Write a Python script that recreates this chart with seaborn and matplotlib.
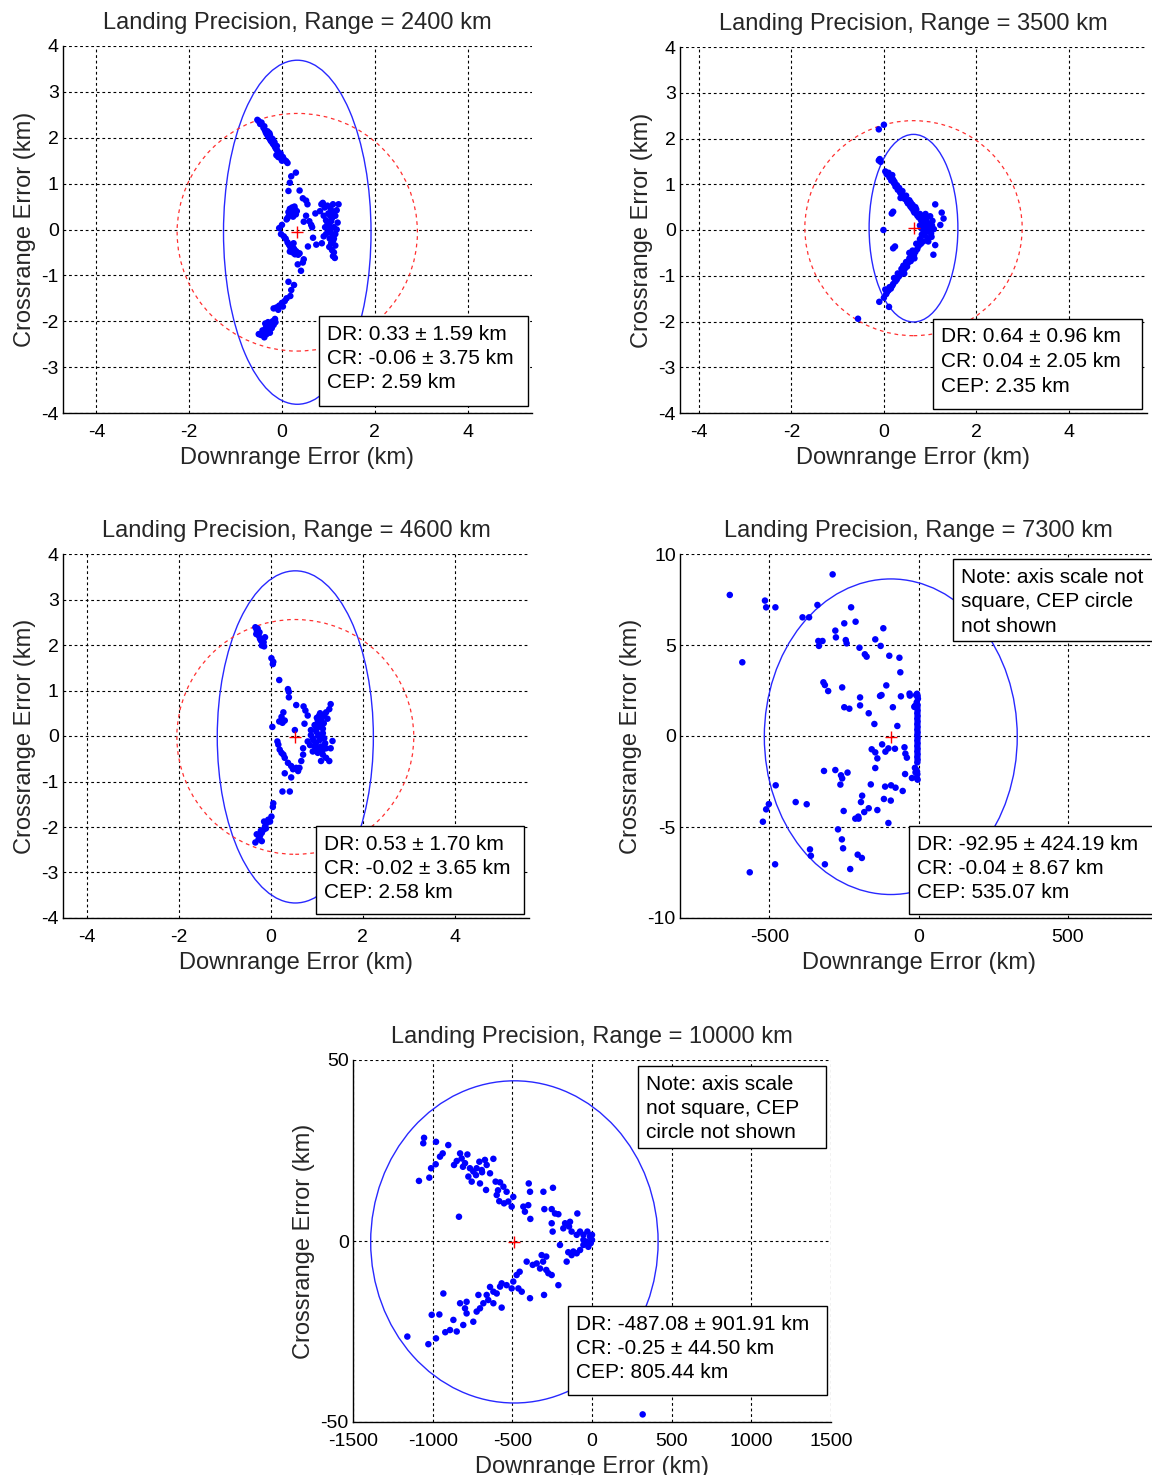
import numpy as np
import matplotlib
matplotlib.use("Agg")
import matplotlib.pyplot as plt
from matplotlib.patches import Ellipse, Rectangle
import seaborn as sns

# ---------------------------------------------------------------- data
ranges_km = [2400, 3500, 4600, 7300, 10000]
dr_mean = [0.33, 0.64, 0.53, -92.95, -487.08]
dr_std = [1.59, 0.96, 1.70, 424.19, 901.91]
cr_mean = [-0.06, 0.04, -0.02, -0.04, -0.25]
cr_std = [3.75, 2.05, 3.65, 8.67, 44.50]
cep_km = [2.59, 2.35, 2.58, 535.07, 805.44]

# landing points (downrange, crossrange) in km
pts_2400 = [
    (-0.53, 2.39), (-0.50, 2.36), (-0.47, 2.30), (-0.44, 2.33), (-0.40, 2.22), (-0.37, 2.17),
    (-0.35, 2.12), (-0.33, 2.08), (-0.31, 2.14), (-0.30, 2.03), (-0.28, 2.00), (-0.26, 2.06),
    (-0.25, 1.95), (-0.23, 1.92), (-0.21, 1.98), (-0.20, 1.88), (-0.18, 1.85), (-0.16, 1.90),
    (-0.15, 1.80), (-0.13, 1.76), (-0.11, 1.82), (-0.10, 1.72), (-0.07, 1.66), (-0.05, 1.62),
    (-0.08, 1.58), (-0.02, 1.55), (0.02, 1.58), (0.05, 1.52), (0.09, 1.49), (0.12, 1.45),
    (-0.12, 1.62), (0.00, 1.50), (-0.38, 2.25), (-0.27, 2.10), (-0.19, 1.95), (-0.03, 1.66),
    (0.30, 1.24), (0.20, 1.16), (0.17, 1.02), (0.14, 0.84), (0.38, 0.85), (0.45, 0.68), (0.52, 0.63),
    (0.12, 0.25), (0.15, 0.30), (0.18, 0.35), (0.20, 0.42), (0.22, 0.48), (0.25, 0.38), (0.28, 0.44),
    (0.30, 0.33), (0.17, 0.45), (0.24, 0.28), (0.27, 0.50), (0.32, 0.40), (0.14, 0.38), (0.21, 0.32),
    (0.10, 0.22),
    (-0.06, 0.03), (-0.02, -0.10), (0.04, -0.15), (0.00, 0.10),
    (0.08, -0.20), (0.12, -0.28), (0.15, -0.33), (0.18, -0.38), (0.20, -0.45), (0.23, -0.50),
    (0.26, -0.42), (0.28, -0.54), (0.30, -0.47), (0.33, -0.50), (0.35, -0.55), (0.22, -0.36),
    (0.17, -0.48), (0.25, -0.30), (0.38, -0.52),
    (0.34, -0.76), (0.45, -0.72), (0.41, -0.90), (0.47, -0.65),
    (0.52, 0.30), (0.59, 0.18), (0.56, -0.37), (0.67, -0.18), (0.74, -0.33), (0.63, 0.10),
    (0.47, 0.17), (0.55, 0.55), (0.65, 0.05), (0.72, 0.35),
    (0.82, 0.40), (0.85, 0.55), (0.90, 0.30), (0.92, 0.48), (0.95, 0.20), (0.98, 0.52),
    (1.00, 0.35), (1.02, 0.10), (1.05, 0.45), (1.08, 0.25), (1.10, 0.55), (1.12, 0.38),
    (1.15, 0.30), (1.18, 0.42), (1.22, 0.55), (1.20, 0.15), (1.05, 0.00), (1.00, -0.05),
    (1.08, -0.10), (1.12, 0.05), (0.95, -0.10), (1.03, -0.20), (1.10, -0.25), (1.06, -0.30),
    (1.15, -0.35), (1.02, -0.38), (1.08, -0.45), (1.12, -0.50), (1.10, -0.58), (1.14, -0.62),
    (0.90, -0.15), (0.86, -0.30), (0.98, 0.15), (1.15, -0.10), (1.18, 0.00), (0.93, 0.05),
    (1.04, 0.30), (0.88, 0.58), (1.12, -0.20), (1.06, 0.18),
    (0.14, -1.14), (0.26, -1.21), (0.20, -1.32), (0.18, -1.45), (0.10, -1.50), (0.06, -1.56),
    (0.00, -1.60), (-0.06, -1.66), (-0.12, -1.70), (-0.18, -1.72), (-0.08, -1.75), (0.02, -1.68),
    (-0.15, -1.95), (-0.20, -2.00), (-0.25, -2.05), (-0.30, -2.10), (-0.22, -2.15), (-0.35, -2.15),
    (-0.28, -2.20), (-0.40, -2.25), (-0.33, -2.28), (-0.45, -2.30), (-0.50, -2.28), (-0.38, -2.35),
    (-0.30, -2.02), (-0.18, -2.08), (-0.42, -2.20), (-0.26, -2.25), (-0.36, -2.05), (-0.14, -2.02),
]

pts_3500 = [
    (0.00, 2.30), (-0.11, 2.20), (-0.11, 1.52), (-0.07, 1.49), (-0.09, 1.55),
    (0.03, 1.28), (0.06, 1.22), (0.10, 1.25), (0.12, 1.15), (0.15, 1.18), (0.16, 1.08),
    (0.20, 1.10), (0.22, 1.02), (0.25, 0.95), (0.23, 1.05), (0.28, 0.98), (0.30, 0.88),
    (0.33, 0.92), (0.35, 0.82), (0.38, 0.78), (0.40, 0.85), (0.42, 0.72), (0.45, 0.68),
    (0.48, 0.75), (0.50, 0.62), (0.52, 0.58), (0.55, 0.65), (0.57, 0.52), (0.60, 0.48),
    (0.62, 0.55), (0.64, 0.42), (0.66, 0.38), (0.70, 0.45), (0.72, 0.32), (0.75, 0.28),
    (0.78, 0.35), (0.80, 0.22), (0.83, 0.18), (0.85, 0.26), (0.88, 0.12), (0.90, 0.20),
    (0.93, 0.08), (0.95, 0.15), (0.18, 1.20), (0.36, 0.70), (0.58, 0.60), (0.68, 0.50),
    (0.80, 0.05), (0.85, 0.00), (0.90, -0.05), (0.95, -0.02), (1.00, 0.05), (1.02, -0.08),
    (0.98, 0.12), (0.92, 0.25), (1.05, 0.20), (1.00, 0.30), (0.88, -0.12), (0.95, -0.18),
    (1.03, -0.15), (0.82, -0.10), (0.78, 0.10), (1.08, 0.02), (0.96, -0.25), (0.86, 0.18),
    (1.04, 0.10), (0.90, 0.35),
    (0.85, -0.25), (0.80, -0.30), (0.78, -0.20), (0.75, -0.35), (0.72, -0.42), (0.70, -0.30),
    (0.68, -0.48), (0.65, -0.55), (0.62, -0.45), (0.60, -0.60), (0.58, -0.68), (0.55, -0.62),
    (0.52, -0.72), (0.50, -0.80), (0.48, -0.70), (0.45, -0.85), (0.42, -0.78), (0.40, -0.92),
    (0.38, -0.85), (0.35, -0.98), (0.32, -1.02), (0.30, -0.95), (0.28, -1.08), (0.25, -1.12),
    (0.22, -1.05), (0.20, -1.18), (0.18, -1.22), (0.15, -1.28), (0.12, -1.25), (0.10, -1.32),
    (0.07, -1.35), (0.05, -1.40), (0.03, -1.30), (0.55, -0.50), (0.66, -0.62), (0.44, -0.95),
    (0.17, 0.36), (0.20, 0.40), (-0.01, 0.00), (0.24, -0.36), (0.20, -0.40),
    (1.11, 0.56), (1.25, 0.38), (1.29, 0.25), (1.22, 0.11), (1.11, -0.33), (1.07, -0.54),
    (-0.56, -1.94), (-0.10, -1.57), (0.11, -1.68), (0.00, -1.48),
]

pts_4600 = [
    (-0.34, 2.39), (-0.31, 2.32), (-0.27, 2.21), (-0.24, 2.14), (-0.16, 2.06), (-0.13, 2.17),
    (-0.20, 1.99), (-0.32, 2.24), (-0.25, 2.28), (-0.15, 1.97), (-0.29, 2.36), (-0.22, 2.10),
    (0.01, 1.71), (0.05, 1.63), (0.04, 1.58), (0.18, 1.23),
    (0.37, 1.03), (0.39, 0.97), (0.39, 0.85),
    (0.55, 0.68), (0.71, 0.65), (0.75, 0.56), (0.80, 0.45), (0.73, 0.27),
    (0.27, 0.52), (0.23, 0.42), (0.18, 0.32), (0.30, 0.34), (0.03, 0.20), (0.25, 0.29),
    (0.52, 0.13),
    (0.14, -0.12), (0.16, -0.19), (0.19, -0.30), (0.23, -0.37), (0.27, -0.41), (0.30, -0.48),
    (0.37, -0.59), (0.44, -0.66), (0.48, -0.73), (0.55, -0.70), (0.62, -0.70), (0.66, -0.55),
    (0.70, -0.41), (0.30, -0.82), (0.44, -0.91), (0.59, -0.77),
    (0.25, -1.22), (0.41, -1.22), (0.05, -1.48), (0.04, -1.56),
    (0.01, -1.77), (-0.06, -1.84), (-0.09, -1.91), (-0.13, -1.99), (-0.16, -2.06), (-0.20, -2.13),
    (-0.24, -2.20), (-0.31, -2.16), (-0.27, -2.27), (-0.34, -2.34), (-0.20, -2.31), (-0.02, -1.88),
    (-0.15, -1.88), (-0.11, -2.03), (-0.22, -2.08),
    (1.30, 0.70), (1.27, 0.59), (1.20, 0.52), (1.23, 0.38), (1.16, 0.45), (1.05, 0.45),
    (1.02, 0.34), (1.09, 0.27), (0.95, 0.24), (0.98, 0.13), (1.13, 0.16), (0.87, 0.02),
    (0.91, -0.05), (1.05, 0.02), (1.16, -0.05), (0.80, -0.12), (0.70, -0.27), (0.98, -0.16),
    (1.09, -0.23), (1.20, -0.27), (1.30, -0.27), (1.02, -0.37), (1.13, -0.41), (1.20, -0.48),
    (1.27, -0.55), (1.09, -0.55), (0.91, -0.34), (0.99, 0.09), (1.06, -0.09), (1.13, 0.06),
    (0.97, 0.24), (1.04, 0.20), (1.10, 0.38), (0.95, -0.23), (1.18, -0.16), (0.87, 0.13),
    (1.34, -0.11), (1.00, 0.40), (1.07, 0.50), (0.93, -0.10), (1.01, -0.28), (1.12, -0.32),
    (1.15, 0.28), (0.85, -0.20), (1.03, 0.00), (1.10, -0.05),
]

pts_7300 = [
    (-633, 7.75), (-591, 4.05), (-566, -7.49), (-515, 7.44), (-511, 7.07), (-480, 7.07),
    (-389, 6.52), (-367, 6.52), (-339, 7.20), (-288, 8.88), (-226, 7.07), (-249, 6.19),
    (-211, 6.28), (-279, 5.79), (-277, 5.42), (-244, 5.27), (-241, 5.09), (-336, 5.22),
    (-322, 5.22), (-334, 4.95), (-198, 4.85), (-180, 4.49), (-174, 4.36), (-145, 5.31),
    (-127, 4.95), (-118, 5.92), (-98, 4.41), (-64, 4.30), (-61, 3.50), (-319, 2.95),
    (-314, 2.80), (-303, 2.47), (-256, 2.67), (-108, 2.78), (-196, 2.12), (-196, 1.68),
    (-249, 1.58), (-232, 1.50), (-167, 1.25), (-129, 2.20), (-124, 2.25), (-59, 2.18),
    (-30, 2.33), (-29, 2.22), (-86, 1.58), (-148, 0.66), (-71, 0.55), (-122, -0.46),
    (-101, -0.68), (-111, -0.86), (-157, -0.73), (-145, -0.90), (-138, -1.23), (-79, -0.70),
    (-47, -0.62), (-44, -0.97), (-39, -1.19), (-145, -1.76), (-45, -2.09), (-22, -2.31),
    (-317, -1.92), (-279, -1.87), (-260, -2.16), (-256, -2.33), (-238, -2.01), (-262, -2.67),
    (-160, -2.66), (-112, -2.78), (-92, -2.71), (-77, -2.84), (-53, -3.02), (-189, -3.28),
    (-193, -3.63), (-116, -3.46), (-93, -3.55), (-251, -4.12), (-167, -3.97), (-182, -4.18),
    (-138, -4.07), (-212, -4.54), (-201, -4.54), (-202, -4.43), (-101, -4.78), (-270, -5.13),
    (-257, -5.68), (-253, -6.17), (-204, -6.52), (-190, -6.70), (-229, -7.31), (-314, -7.05),
    (-364, -6.23), (-361, -6.58), (-412, -3.63), (-375, -3.75), (-479, -2.71), (-502, -3.74),
    (-511, -4.03), (-522, -4.71), (-481, -7.05),
    (-5, 2.32), (-3, 2.20), (-8, 2.25), (-2, 2.05), (-12, 1.65), (-14, 1.60), (-6, 1.85),
    (-3, 1.70), (-4, 1.55), (-3, 1.40), (-4, 1.25), (-3, 1.10), (-4, 0.95), (-3, 0.80),
    (-4, 0.65), (-3, 0.50), (-4, 0.35), (-3, 0.20), (-4, 0.05), (-3, -0.10), (-4, -0.25),
    (-3, -0.40), (-4, -0.55), (-3, -0.70), (-4, -0.85), (-3, -1.00), (-4, -1.15), (-3, -1.30),
    (-4, -1.45), (-12, -1.75), (-8, -1.85), (-5, -1.95), (-10, -2.00), (-4, -2.10),
    (-6, -2.30), (-3, -2.40),
]

pts_10000 = [
    (-1054, 28.5), (-1059, 27.0), (-979, 27.4), (-902, 26.5), (-1086, 16.6), (-1021, 17.5),
    (-1010, 20.1), (-981, 21.2), (-954, 23.3), (-937, 24.2), (-866, 21.0), (-849, 22.1),
    (-828, 24.2), (-782, 23.9), (-818, 22.8), (-797, 21.5), (-766, 20.1), (-776, 17.8),
    (-745, 19.2), (-724, 20.1), (-707, 21.9), (-672, 22.4), (-661, 21.0), (-692, 19.6),
    (-728, 18.2), (-755, 16.4), (-619, 22.7), (-703, 15.9), (-665, 14.1), (-640, 18.7),
    (-605, 16.4), (-577, 16.2), (-556, 15.0), (-598, 12.7), (-582, 11.0), (-552, 10.4),
    (-536, 13.6), (-525, 10.9), (-504, 9.5), (-494, 12.2), (-431, 9.5), (-421, 8.1),
    (-400, 9.9), (-389, 13.6), (-397, 15.9), (-387, 6.1), (-835, 6.7), (-305, 13.6),
    (-245, 14.7), (-299, 8.8), (-253, 8.8), (-232, 7.6), (-211, 7.4), (-253, 4.9),
    (-247, 2.6), (-180, 3.5), (-169, 4.9), (-138, 5.3), (-144, 4.0), (-92, 7.6),
    (-128, 2.6), (-96, 1.7), (-75, 2.6), (-54, 1.7), (-29, 2.6), (-13, 1.2), (0, 0.3),
    (0, 1.7), (-8, -0.6), (-54, 0.3), (-33, -0.2), (-690, 19.0), (-810, 20.5), (-590, 14.0),
    (-23, -1.6), (-54, -1.1), (-75, -2.5), (-96, -3.4), (-128, -3.9), (-117, -2.9),
    (-201, -1.1), (-149, -3.1), (-159, -5.7), (-316, -3.9), (-287, -4.3), (-307, -5.7),
    (-347, -6.2), (-372, -6.6), (-326, -7.6), (-287, -8.0), (-253, -9.4), (-274, -8.9),
    (-211, -12.2), (-410, -5.7), (-454, -8.5), (-473, -9.4), (-494, -11.2), (-504, -13.1),
    (-462, -13.1), (-441, -14.0), (-389, -15.8), (-301, -14.9), (-567, -11.7), (-577, -12.6),
    (-598, -14.5), (-619, -14.0), (-640, -12.7), (-661, -14.9), (-651, -16.3), (-682, -17.2),
    (-703, -18.6), (-724, -19.5), (-619, -17.2), (-567, -18.4), (-787, -16.8), (-828, -17.2),
    (-797, -18.6), (-787, -20.0), (-745, -22.3), (-808, -23.2), (-849, -25.0), (-891, -24.6),
    (-921, -25.2), (-870, -21.8), (-933, -14.5), (-958, -20.3), (-1006, -20.4), (-979, -26.9),
    (-1027, -28.5), (-1159, -26.4), (-713, -14.9), (-536, -12.2), (318, -47.9),
]

point_sets = [pts_2400, pts_3500, pts_4600, pts_7300, pts_10000]
x_ticks = [[-4, -2, 0, 2, 4]] * 3 + [[-500, 0, 500], [-1500, -1000, -500, 0, 500, 1000, 1500]]
y_ticks = [[-4, -3, -2, -1, 0, 1, 2, 3, 4]] * 3 + [[-10, -5, 0, 5, 10], [-50, 0, 50]]
x_lims = [(-4.72, 5.39), (-4.41, 5.69), (-4.53, 5.62), (-800, 800), (-1500, 1500)]
y_lims = [(-4, 4)] * 3 + [(-10, 10), (-50, 50)]
note_text = "Note: axis scale not\nsquare, CEP circle\nnot shown"
note_text5 = "Note: axis scale\nnot square, CEP\ncircle not shown"

# ---------------------------------------------------------------- layout (pixels)
W, H = 1152, 1475
# axes boxes: left, top, right, bottom in pixels
ax_px = [(63, 46, 532, 413), (680, 47, 1147, 413), (63, 554, 529, 918),
         (680, 554, 1157, 918), (353, 1060, 831, 1422)]
# stats boxes: left, top, right, bottom
stat_px = [(319, 316, 528, 406), (933, 319, 1142, 409), (316, 826, 524, 914),
           (909, 826, 1160, 914), (568, 1306, 827, 1395)]
note_px = {3: (953, 559, 1160, 641), 4: (638, 1066, 826, 1148)}

sns.set_theme(style="white")
plt.rcParams["font.family"] = ["Liberation Sans", "DejaVu Sans"]
plt.rcParams["axes.unicode_minus"] = False

fig = plt.figure(figsize=(W / 100, H / 100), dpi=100)
fig.patch.set_facecolor("white")


def fx(x):
    return x / W


def fy(y):
    return 1 - y / H


def box_with_lines(lines, box, pad_left=8, first=18.0, step=24.5):
    l, t, r, b = box
    fig.patches.append(Rectangle((fx(l), fy(b)), fx(r) - fx(l), fy(t) - fy(b),
                                 transform=fig.transFigure, facecolor="white",
                                 edgecolor="black", linewidth=1.0, zorder=5))
    for i, s in enumerate(lines):
        fig.text(fx(l + pad_left), fy(t + first + step * i), s, ha="left", va="center",
                 fontsize=15, color="black", zorder=6)


for i in range(5):
    l, t, r, b = ax_px[i]
    ax = fig.add_axes([fx(l), fy(b), fx(r) - fx(l), fy(t) - fy(b)])
    pts = np.array(point_sets[i], dtype=float)
    sns.scatterplot(x=pts[:, 0], y=pts[:, 1], ax=ax, color="#0000ff", s=22,
                    linewidth=0, edgecolor="none", zorder=3)
    ax.add_patch(Ellipse((dr_mean[i], cr_mean[i]), 2 * dr_std[i], 2 * cr_std[i],
                         fill=False, edgecolor="#2828ff", linewidth=1.0, zorder=2))
    if i < 3:
        ax.add_patch(Ellipse((dr_mean[i], cr_mean[i]), 2 * cep_km[i], 2 * cep_km[i],
                             fill=False, edgecolor="#ff3030", linewidth=0.9,
                             linestyle=(0, (3, 3)), zorder=2))
    ax.plot([dr_mean[i]], [cr_mean[i]], marker="+", color="red", markersize=9,
            markeredgewidth=1.0, linestyle="none", zorder=4)

    ax.set_xlim(*x_lims[i])
    ax.set_ylim(*y_lims[i])
    ax.set_xticks(x_ticks[i])
    ax.set_yticks(y_ticks[i])
    ax.set_xticklabels([str(v) for v in x_ticks[i]])
    ax.set_yticklabels([str(v) for v in y_ticks[i]])
    ax.tick_params(axis="both", labelsize=14, direction="in", length=4, width=0.8,
                   colors="black")
    ax.tick_params(axis="x", pad=8)
    ax.tick_params(axis="y", pad=3)
    ax.grid(True, color="black", linestyle=(0, (2.5, 2.5)), linewidth=0.8)
    for side in ("top", "right"):
        ax.spines[side].set_visible(False)
    for side in ("left", "bottom"):
        ax.spines[side].set_color("black")
        ax.spines[side].set_linewidth(1.0)
    ax.set_facecolor("white")
    ax.set_title(f"Landing Precision, Range = {ranges_km[i]} km", fontsize=17, pad=12.5)
    ax.set_xlabel("Downrange Error (km)", fontsize=17, labelpad=4)
    ax.set_ylabel("Crossrange Error (km)", fontsize=17, labelpad=4)

    lines = [f"DR: {dr_mean[i]:.2f} \u00b1 {dr_std[i]:.2f} km",
             f"CR: {cr_mean[i]:.2f} \u00b1 {cr_std[i]:.2f} km",
             f"CEP: {cep_km[i]:.2f} km"]
    box_with_lines(lines, stat_px[i])
    if i in note_px:
        txt = note_text if i == 3 else note_text5
        box_with_lines(txt.split("\n"), note_px[i])

fig.savefig("out.png", dpi=100, facecolor="white")
